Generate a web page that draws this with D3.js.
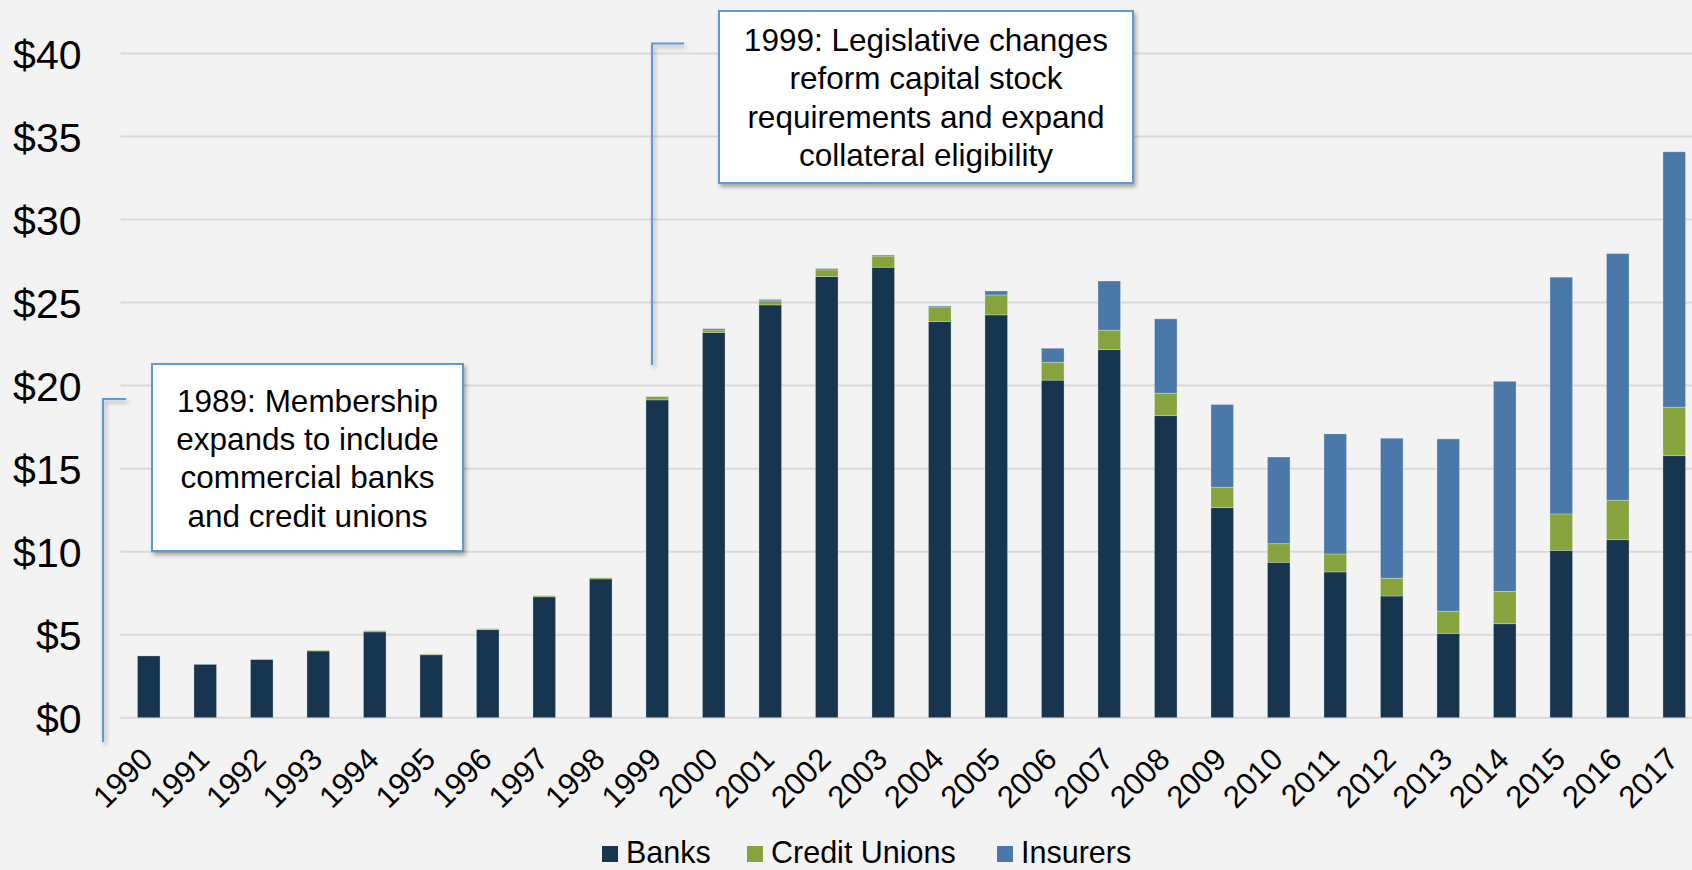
<!DOCTYPE html>
<html>
<head>
<meta charset="utf-8">
<script src="https://cdn.jsdelivr.net/npm/d3@7"></script>
<style>
  html, body { margin: 0; padding: 0; background: #f3f3f3; }
  svg { display: block; }
  text { font-family: "Liberation Sans", Arial, sans-serif; }
</style>
</head>
<body>
<svg id="chart" width="1692" height="870"></svg>
<script>
// ---- Data ----
const years = [1990,1991,1992,1993,1994,1995,1996,1997,1998,1999,2000,2001,2002,2003,2004,2005,2006,2007,2008,2009,2010,2011,2012,2013,2014,2015,2016,2017];
const banks = [3.72,3.21,3.50,4.02,5.17,3.79,5.30,7.28,8.36,19.14,23.20,24.86,26.57,27.13,23.86,24.26,20.33,22.17,18.19,12.65,9.36,8.78,7.33,5.08,5.66,10.08,10.72,15.78];
const creditUnions = [0,0,0,0.04,0.07,0.05,0.06,0.07,0.07,0.20,0.15,0.25,0.40,0.67,0.88,1.20,1.08,1.17,1.35,1.23,1.12,1.08,1.07,1.33,1.95,2.19,2.38,2.92];
const insurers = [0,0,0,0,0,0,0,0,0,0,0.08,0.08,0.08,0.06,0.06,0.24,0.84,2.96,4.48,4.98,5.22,7.23,8.43,10.38,12.65,14.26,14.85,15.38];
const seriesNames = ["Banks","Credit Unions","Insurers"];
const seriesColors = ["#17354f","#86a33d","#4a78a9"];
const yTicks = [0,5,10,15,20,25,30,35,40];
const note1989 = ["1989: Membership","expands to include","commercial banks","and credit unions"];
const note1999 = ["1999: Legislative changes","reform capital stock","requirements and expand","collateral eligibility"];

// ---- Setup ----
const svg = d3.select("#chart");
const W = 1692, H = 870;
const defs = svg.append("defs");
const f = defs.append("filter").attr("id","shadow").attr("x","-10%").attr("y","-10%").attr("width","130%").attr("height","140%");
f.append("feDropShadow").attr("dx",2).attr("dy",3).attr("stdDeviation",2.2).attr("flood-color","#000").attr("flood-opacity",0.33);

svg.append("rect").attr("width",W).attr("height",H).attr("fill","#f3f3f3");

const x = d3.scaleBand().domain(years).range([120.5, 1702.5]).paddingInner(0.6).paddingOuter(0.3);
const y = d3.scaleLinear().domain([0,40]).range([717.7, 53.5]);

// gridlines
svg.append("g").selectAll("line").data(yTicks).join("line")
  .attr("x1",120.5).attr("x2",W)
  .attr("y1",d=>y(d)).attr("y2",d=>y(d))
  .attr("stroke","#d9d9d9").attr("stroke-width",2);

// y labels
const yAxis = d3.axisLeft(y).tickValues(yTicks).tickFormat(d=>"$"+d).tickSize(0).tickPadding(0);
const yg = svg.append("g").attr("transform","translate(81.5,0)").call(yAxis);
yg.select(".domain").remove();
yg.selectAll("text").attr("font-size","41px").attr("fill","#000").attr("font-family","'Liberation Sans', Arial, sans-serif").attr("dy","0.36em");

// stacked bars
const table = years.map((yr,i)=>({year:yr, "Banks":banks[i], "Credit Unions":creditUnions[i], "Insurers":insurers[i]}));
const stack = d3.stack().keys(seriesNames)(table);
svg.append("g").selectAll("g").data(stack).join("g")
  .attr("fill",(d,i)=>seriesColors[i])
  .selectAll("rect").data(d=>d.filter(p=>p[1]-p[0]>0)).join("rect")
  .attr("x",d=>x(d.data.year))
  .attr("width",x.bandwidth())
  .attr("y",d=>y(d[1]))
  .attr("height",d=>y(d[0])-y(d[1]))
  .attr("stroke","rgba(255,255,255,0.35)").attr("stroke-width",0.8);

// x labels
const xAxis = d3.axisBottom(x).tickSize(0).tickPadding(0);
const xg = svg.append("g").call(xAxis);
xg.select(".domain").remove();
xg.selectAll(".tick").attr("transform",d=>`translate(${x(d)+x.bandwidth()/2},0)`);
xg.selectAll(".tick text")
  .attr("font-size","31px").attr("fill","#000")
  .attr("font-family","'Liberation Sans', Arial, sans-serif")
  .attr("text-anchor","end").attr("dy",null).attr("y",null)
  .attr("transform","translate(6,761) rotate(-45)");

// leader lines
const lead = svg.append("g").attr("filter","url(#shadow)").attr("stroke","#5b9bd5").attr("stroke-width",2).attr("fill","none");
lead.append("path").attr("d","M126,399 L103,399 L103,742");
lead.append("path").attr("d","M684,43.5 L652,43.5 L652,365");

// annotation boxes
function note(x0,y0,x1,y1,lines,firstBase,spacing){
  const g = svg.append("g");
  g.append("rect").attr("x",x0).attr("y",y0).attr("width",x1-x0).attr("height",y1-y0)
    .attr("fill","#fff").attr("stroke","#5b9bd5").attr("stroke-width",2).attr("filter","url(#shadow)");
  g.selectAll("text").data(lines).join("text")
    .attr("x",(x0+x1)/2).attr("y",(d,i)=>firstBase+i*spacing)
    .attr("text-anchor","middle").attr("font-size","31.5px").attr("fill","#000").text(d=>d);
}
note(152,364,463,551,note1989,411.5,38.4);
note(719,11,1133,183,note1999,51,38.3);

// legend
const legendItems = [{n:"Banks",x:602},{n:"Credit Unions",x:747},{n:"Insurers",x:997}];
const lg = svg.append("g");
legendItems.forEach((it,i)=>{
  lg.append("rect").attr("x",it.x).attr("y",846).attr("width",16).attr("height",16).attr("fill",seriesColors[i]);
  lg.append("text").attr("x",it.x+24).attr("y",863).attr("font-size","30.5px").attr("fill","#000").text(it.n);
});
</script>
</body>
</html>
